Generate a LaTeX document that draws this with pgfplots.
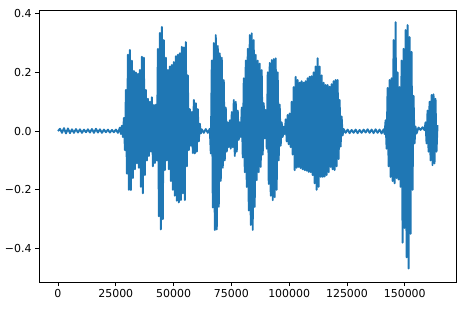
\documentclass[border=0pt]{standalone}
\usepackage{fontspec}
\setmainfont{DejaVu Sans}
\usepackage{pgfplots}
\pgfplotsset{compat=1.18}
\definecolor{mplblue}{HTML}{1F77B4}
\begin{document}
\begin{tikzpicture}
\path[use as bounding box] (-39bp,-37bp) rectangle (430bp,282bp);
\begin{axis}[
  at={(0,0)}, anchor=south west,
  scale only axis, width=417.5bp, height=271.3bp,
  xmin=-8208, xmax=172368, ymin=-0.514, ymax=0.41,
  axis line style={black, line width=0.8pt},
  tick style={black, line width=0.8pt},
  major tick length=4bp, tick align=outside, tick pos=left,
  xtick={0,25000,50000,75000,100000,125000,150000},
  xticklabels={0,25000,50000,75000,100000,125000,150000},
  ytick={-0.4,-0.2,0,0.2,0.4},
  yticklabels={−0.4,−0.2,0.0,0.2,0.4},
  tick label style={font=\fontsize{11}{13}\selectfont, black},
  scaled ticks=false,
]
\addplot[mplblue, line width=1.9pt, line join=round, mark=none] coordinates {
(0,0.0)(864,0.008)(1728,-0.006)(2592,0.01)(3456,-0.008)(4320,0.009)(5184,-0.007)(6048,0.006)(6912,-0.006)(7776,0.007)(8640,-0.005)(9504,0.006)(10368,-0.006)(11232,0.005)(12096,-0.004)(12960,0.006)(13824,-0.005)(14688,0.007)(15552,-0.006)(16416,0.008)(17280,-0.005)(18144,0.006)(19008,-0.006)(19872,0.005)(20736,-0.004)(21600,0.005)(22464,-0.005)(23328,0.004)(24192,-0.004)(25056,0.005)(25920,-0.006)(26784,0.012)(27216,-0.01)(27648,0.018)(28080,-0.02)
(28512,0.045)(28944,-0.065)(29376,0.14)(29808,-0.145)(30240,0.26)(30672,-0.2)(31104,0.276)(31536,-0.201)(31968,0.24)(32400,-0.16)(32832,0.205)(33264,-0.13)(33696,0.2)(34128,-0.11)(34560,0.195)(34992,-0.125)(35424,0.208)(35856,-0.19)(36288,0.253)(36720,-0.212)(37152,0.25)(37584,-0.15)(38016,0.14)(38448,-0.1)(38880,0.11)(39312,-0.085)(39744,0.1)(40176,-0.07)(40608,0.115)(41040,-0.12)(41472,0.089)(41904,-0.109)(42336,0.09)(42768,-0.1)
(43200,0.28)(43632,-0.29)(44064,0.334)(44496,-0.335)(44928,0.355)(45360,-0.3)(45792,0.31)(46224,-0.133)(46656,0.25)(47088,-0.1)(47520,0.208)(47952,-0.13)(48384,0.22)(48816,-0.17)(49248,0.225)(49680,-0.2)(50112,0.235)(50544,-0.22)(50976,0.255)(51408,-0.237)(51840,0.26)(52272,-0.243)(52704,0.265)(53136,-0.235)(53568,0.287)(54000,-0.212)(54432,0.285)(54864,-0.235)(55296,0.303)(55728,-0.12)(56160,0.19)(56592,-0.065)(57024,0.075)(57456,-0.05)(57888,0.065)(58320,-0.075)(58752,0.106)(59184,-0.076)(59616,0.095)(60048,-0.07)(60480,0.075)(60912,-0.035)(61344,0.025)(61776,-0.008)
(62208,0.006)(63072,-0.006)(63936,0.007)(64800,-0.006)(65664,0.008)
(66096,-0.076)(66528,0.24)(66960,-0.26)(67392,0.3)(67824,-0.337)(68256,0.327)(68688,-0.335)(69120,0.29)(69552,-0.258)(69984,0.265)(70416,-0.17)(70848,0.25)(71280,-0.125)(71712,0.174)(72144,-0.1)(72576,0.08)(73008,-0.07)(73440,0.03)(73872,-0.055)(74304,0.037)(74736,-0.06)(75168,0.065)(75600,-0.055)(76032,0.106)(76464,-0.085)(76896,0.1)(77328,-0.07)(77760,0.07)(78192,-0.03)(78624,0.03)(79056,-0.02)
(79488,0.08)(79920,-0.09)(80352,0.18)(80784,-0.14)(81216,0.24)(81648,-0.19)(82080,0.28)(82512,-0.27)(82944,0.327)(83376,-0.32)(83808,0.333)(84240,-0.337)(84672,0.31)(85104,-0.258)(85536,0.26)(85968,-0.167)(86400,0.24)(86832,-0.14)(87264,0.23)(87696,-0.122)(88128,0.208)(88560,-0.08)(88992,0.095)(89424,-0.025)(89856,0.072)(90288,-0.06)
(90720,0.2)(91152,-0.18)(91584,0.232)(92016,-0.22)(92448,0.242)(92880,-0.235)(93312,0.245)(93744,-0.225)(94176,0.248)(94608,-0.2)(95040,0.2)(95472,-0.1)(95904,0.09)(96336,-0.05)(96768,0.03)(97200,-0.02)(97632,0.015)(98064,-0.01)(98496,0.04)(98928,-0.035)(99360,0.055)(99792,-0.045)(100224,0.06)(100656,-0.055)(101088,0.1)(101520,-0.08)
(101952,0.15)(102384,-0.133)(102816,0.185)(103248,-0.125)(103680,0.174)(104112,-0.122)(104544,0.165)(104976,-0.126)(105408,0.17)(105840,-0.13)(106272,0.165)(106704,-0.133)(107136,0.17)(107568,-0.135)(108000,0.18)(108432,-0.139)(108864,0.185)(109296,-0.14)(109728,0.187)(110160,-0.15)(110592,0.2)(111024,-0.178)(111456,0.22)(111888,-0.2)(112320,0.248)(112752,-0.19)(113184,0.22)(113616,-0.156)(114048,0.19)(114480,-0.156)(114912,0.165)(115344,-0.155)(115776,0.157)(116208,-0.15)(116640,0.157)(117072,-0.14)(117504,0.151)(117936,-0.122)(118368,0.16)(118800,-0.13)(119232,0.17)(119664,-0.133)(120096,0.174)(120528,-0.12)(120960,0.174)(121392,-0.095)(121824,0.106)(122256,-0.053)(122688,0.05)(123120,-0.015)(123552,0.007)
(124416,-0.006)(125280,0.005)(126144,-0.007)(127008,0.004)(127872,-0.006)(128736,0.005)(129600,-0.007)(130464,0.004)(131328,-0.006)(132192,0.005)(133056,-0.005)(133920,0.006)(134784,-0.006)(135648,0.005)(136512,-0.007)(137376,0.006)(138240,-0.006)(139104,0.005)(139968,-0.008)(140832,0.006)(141264,-0.01)
(141696,0.037)(142128,-0.06)(142560,0.147)(142992,-0.12)(143424,0.174)(143856,-0.156)(144288,0.18)(144720,-0.17)(145152,0.31)(145584,-0.178)(146016,0.371)(146448,-0.16)(146880,0.2)(147312,-0.165)(147744,0.15)(148176,-0.19)(148608,0.24)(149040,-0.38)(149472,0.28)(149904,-0.33)(150336,0.344)(150768,-0.43)(151200,0.361)(151632,-0.468)(152064,0.32)(152496,-0.35)(152928,0.27)(153360,-0.2)(153792,0.12)(154224,-0.042)(154656,0.015)(155088,-0.008)
(155952,0.012)(156816,0.004)(157680,0.013)(158544,0.003)
(158976,0.03)(159408,-0.042)(159840,0.07)(160272,-0.07)(160704,0.1)(161136,-0.1)(161568,0.123)(162000,-0.116)(162432,0.125)(162864,-0.11)(163296,0.11)(163728,-0.07)(164160,0.02)
};
\end{axis}
\end{tikzpicture}
\end{document}
